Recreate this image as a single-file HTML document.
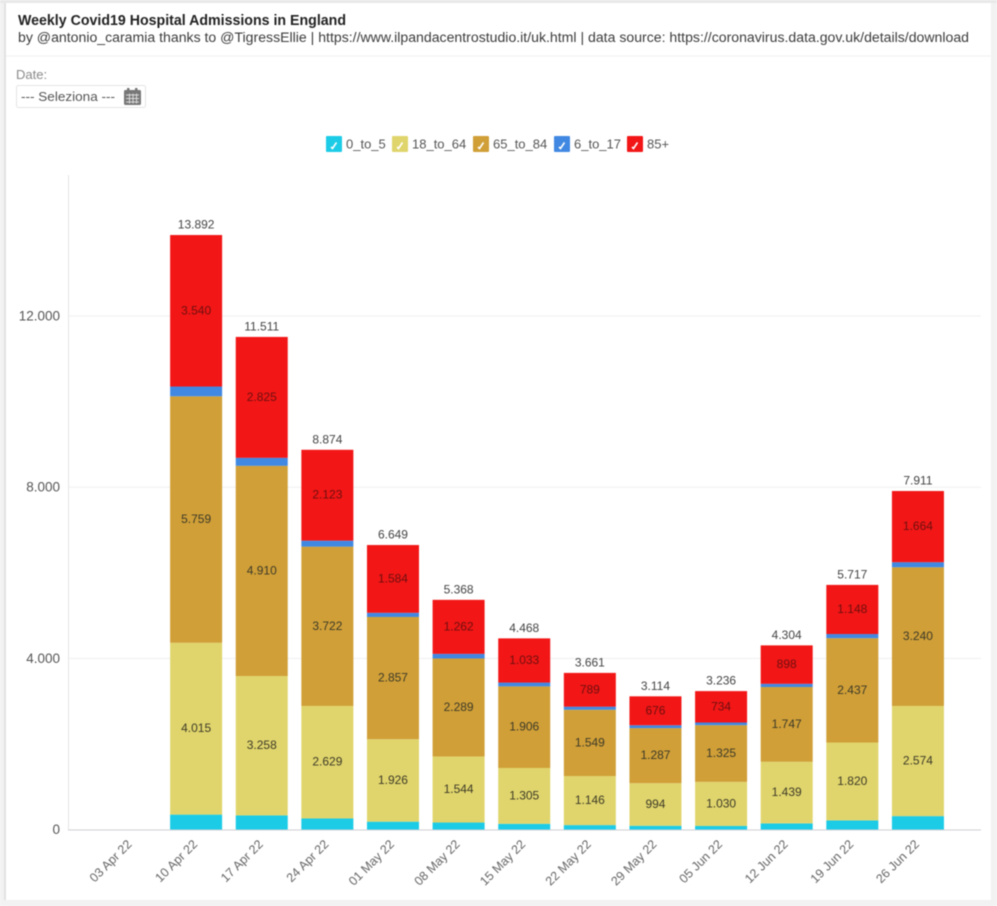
<!DOCTYPE html>
<html lang="en">
<head>
<meta charset="utf-8">
<title>Weekly Covid19 Hospital Admissions in England</title>
<style>
html,body{margin:0;padding:0;background:#fff;width:997px;height:906px;overflow:hidden}
svg{display:block;font-family:"Liberation Sans",sans-serif;filter:blur(0.45px)}
</style>
</head>
<body>
<svg id="chart" width="997" height="906" viewBox="0 0 997 906" xmlns="http://www.w3.org/2000/svg">
  <rect x="0" y="0" width="997" height="906" fill="#f2f2f2"/>
  <rect x="6" y="3" width="985" height="897" fill="#ffffff"/>
  <rect x="4" y="3" width="2" height="897" fill="#e2e2e2"/>
  <rect x="0" y="0" width="997" height="3" fill="#e8e8e8"/>
  <text x="18" y="25" font-size="14.5" font-weight="bold" fill="#222" textLength="328" lengthAdjust="spacingAndGlyphs">Weekly Covid19 Hospital Admissions in England</text>
  <text x="18" y="42" font-size="13.5" fill="#3c3c3c" textLength="951" lengthAdjust="spacingAndGlyphs">by @antonio_caramia thanks to @TigressEllie | https://www.ilpandacentrostudio.it/uk.html | data source: https://coronavirus.data.gov.uk/details/download</text>
  <line x1="6" y1="56" x2="991" y2="56" stroke="#f0f0f0"/>
  <text x="16" y="79" font-size="13" fill="#8a8a8a">Date:</text>
  <g>
    <rect x="16.5" y="85.5" width="129" height="22" rx="2" fill="#fff" stroke="#e4e4e4"/>
    <text x="21" y="101" font-size="13" fill="#555" textLength="94" lengthAdjust="spacingAndGlyphs">--- Seleziona ---</text>
    <g>
      <rect x="124" y="90" width="17" height="15" rx="1.5" fill="#777"/>
      <rect x="127" y="88" width="2.5" height="4" fill="#777"/>
      <rect x="135" y="88" width="2.5" height="4" fill="#777"/>
      <path d="M126 94.5h13v1h-13zM126 98h13v1h-13zM126 101.500h13v1h-13zM129 93.500h1v10h-1zM132.500 93.500h1v10h-1zM136 93.500h1v10h-1z" fill="#d8d8d8"/>
    </g>
  </g>
  <g id="legend"></g>
  <g id="grid"></g>
  <g id="bars"></g>
  <g id="yaxis"></g>
  <g id="xaxis"></g>
</svg>
<script>
const categories = ["03 Apr 22","10 Apr 22","17 Apr 22","24 Apr 22","01 May 22","08 May 22","15 May 22","22 May 22","29 May 22","05 Jun 22","12 Jun 22","19 Jun 22","26 Jun 22"];
const age0to5   = [0,350,331,260,185,165,135,105,90,85,145,215,315];
const age18to64 = [0,4015,3258,2629,1926,1544,1305,1146,994,1030,1439,1820,2574];
const age65to84 = [0,5759,4910,3722,2857,2289,1906,1549,1287,1325,1747,2437,3240];
const age6to17  = [0,228,187,140,97,108,89,72,67,62,75,97,118];
const age85plus = [0,3540,2825,2123,1584,1262,1033,789,676,734,898,1148,1664];
const yTicks = [0,4000,8000,12000];
const seriesNames = ["0_to_5","18_to_64","65_to_84","6_to_17","85+"];

const NS = "http://www.w3.org/2000/svg";
const seriesValues = [age0to5, age18to64, age65to84, age6to17, age85plus];
const seriesColors = ["#1ccbe6","#e0d56c","#d09f37","#4088e2","#f21616"];
const seriesLabelled = [false,true,true,false,true];
const seriesKeys = ["age-0-to-5","age-18-to-64","age-65-to-84","age-6-to-17","age-85-plus"];
const legendBoxX = [326,392,473,554,627];

function yScale(v){ return 829.6 - v * 0.0428; }
function xCenter(i){ return 130.5 + i * 65.62; }
function fmt(v){ return String(v).replace(/\B(?=(\d{3})+(?!\d))/g, "."); }
function mk(tag, attrs, parent){
  const e = document.createElementNS(NS, tag);
  for (const k in attrs) e.setAttribute(k, attrs[k]);
  parent.appendChild(e);
  return e;
}

const gridG = document.getElementById("grid");
const yG = document.getElementById("yaxis");
const xG = document.getElementById("xaxis");
const barsG = document.getElementById("bars");
const legendG = document.getElementById("legend");

yTicks.forEach(function(t){
  if (t > 0) {
    const g = mk("line", {x1:68, x2:981, y1:yScale(t), y2:yScale(t), stroke:"#f0f0f0"}, gridG);
    
    
  }
  const l = mk("text", {x:60, y:yScale(t)+4.5, "text-anchor":"end", "font-size":"13.5", fill:"#555"}, yG);
  
  
  l.textContent = fmt(t);
});
const yLine = mk("line", {x1:68.5, x2:68.5, y1:175, y2:830, stroke:"#e4e4e4"}, yG);



categories.forEach(function(c, i){
  const cx = xCenter(i);
  let cum = 0;
  let total = 0;
  seriesValues.forEach(function(vals, s){
    const v = vals[i];
    if (v <= 0) return;
    const top = yScale(cum + v);
    const bottom = yScale(cum);
    const r = mk("rect", {x:cx-26, y:top, width:52, height:bottom-top, fill:seriesColors[s]}, barsG);
    
    
    if (seriesLabelled[s]) {
      const t = mk("text", {x:cx, y:(top+bottom)/2+3.5, "text-anchor":"middle", "font-size":"12", fill: s===4 ? "#6e0f0f" : "#3d3a28"}, barsG);
      
      
      t.textContent = fmt(v);
    }
    cum += v;
    total += v;
  });
  if (total > 0) {
    const t = mk("text", {x:cx, y:yScale(total)-6.5, "text-anchor":"middle", "font-size":"12", fill:"#444"}, barsG);
    
    
    t.textContent = fmt(total);
  }
  const ax = cx + 2;
  const ay = 845;
  const lab = mk("text", {x:ax, y:ay, "text-anchor":"end", "font-size":"12.5", fill:"#666", transform:"rotate(-45 "+ax+" "+ay+")"}, xG);
  
  
  lab.textContent = c;
});
const xLine = mk("line", {x1:68, x2:981, y1:830, y2:830, stroke:"#cfcfd6"}, xG);



seriesNames.forEach(function(n, s){
  const x = legendBoxX[s];
  const g = mk("g", {}, legendG);
  
  
  mk("rect", {x:x, y:136, width:16, height:16, rx:1, fill:seriesColors[s]}, g);
  mk("path", {d:"M"+(x+5)+" 147l1.500 1.500 4-6", stroke:"#fff", "stroke-width":"1.600", fill:"none"}, g);
  const t = mk("text", {x:x+20, y:148.500, "font-size":"13", fill:"#555"}, g);
  
  
  t.textContent = n;
});
</script>
</body>
</html>
